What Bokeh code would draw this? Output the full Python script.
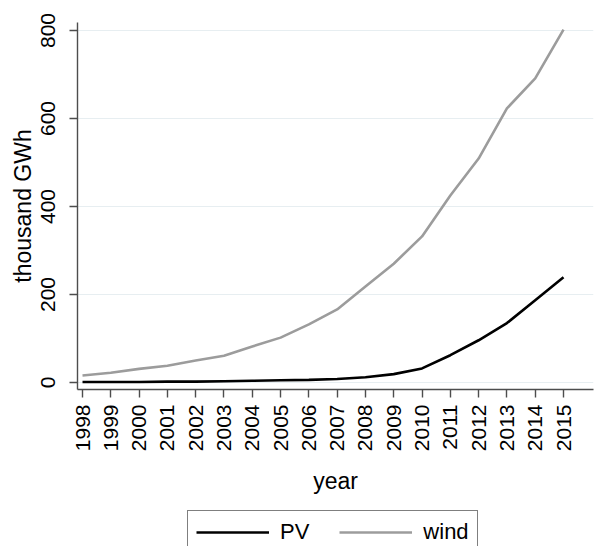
import math
from bokeh.plotting import figure
from bokeh.layouts import column
from bokeh.models import Range1d, FixedTicker, Legend, LegendItem
from bokeh.embed import file_html
from bokeh.resources import INLINE

years = list(range(1998, 2016))
pv = [1, 1, 1, 2, 2, 3, 4, 5, 6, 8, 12, 19, 32, 62, 96, 135, 187, 239]
wind = [16, 22, 31, 38, 50, 61, 82, 102, 132, 166, 218, 270, 332, 425, 509, 623, 691, 802]
y_ticks = [0, 200, 400, 600, 800]
series_names = ["PV", "wind"]
series_colors = ["black", "#9c9c9c"]

FONT = "Liberation Sans"

p = figure(width=595, height=509, output_backend="svg", toolbar_location=None,
           x_range=Range1d(1997.823, 2016.06), y_range=Range1d(-15.9, 818.2),
           min_border_left=77, min_border_right=2, min_border_top=22,
           min_border_bottom=120)
p.outline_line_color = None
p.background_fill_color = "white"
p.border_fill_color = "white"

p.line(years, pv, line_color=series_colors[0], line_width=2.6)
p.line(years, wind, line_color=series_colors[1], line_width=2.6)

p.xgrid.visible = False
p.ygrid.grid_line_color = "#e7eef1"
p.ygrid.grid_line_width = 1.2

for ax in (p.xaxis[0], p.yaxis[0]):
    ax.axis_line_color = "#4d4d4d"
    ax.axis_line_width = 1.4
    ax.major_tick_line_color = "#4d4d4d"
    ax.major_tick_line_width = 1.4
    ax.major_tick_out = 8
    ax.major_tick_in = 0
    ax.minor_tick_line_color = None
    ax.major_label_text_font = FONT
    ax.major_label_text_font_size = "21px"
    ax.major_label_text_color = "black"
    ax.axis_label_text_font = FONT
    ax.axis_label_text_font_size = "23px"
    ax.axis_label_text_font_style = "normal"
    ax.axis_label_text_color = "black"

p.xaxis.major_label_orientation = math.pi / 2
p.yaxis.major_label_orientation = "vertical"
p.xaxis.ticker = FixedTicker(ticks=years)
p.yaxis.ticker = FixedTicker(ticks=y_ticks)
p.xaxis.axis_label = "year"
p.yaxis.axis_label = "thousand GWh"
p.xaxis.major_label_standoff = 7
p.yaxis.major_label_standoff = 14
p.xaxis.axis_label_standoff = 14
p.yaxis.axis_label_standoff = 3

# legend strip (separate figure so the box can be cut at the bottom edge);
# its renderers use the same series but fall outside this strip's ranges
lf = figure(width=595, height=37, output_backend="svg", toolbar_location=None,
            x_range=Range1d(0, 1), y_range=Range1d(0, 1),
            x_axis_type=None, y_axis_type=None,
            min_border_left=0, min_border_right=0, min_border_top=0,
            min_border_bottom=0)
lf.outline_line_color = None
lf.xgrid.visible = False
lf.ygrid.visible = False
items = []
for name, col, vals in zip(series_names, series_colors, [pv, wind]):
    r = lf.line(years, vals, line_color=col, line_width=2.6)
    items.append(LegendItem(label=name, renderers=[r]))

legend = Legend(items=items, orientation="horizontal", location=(110, -7.5))
legend.label_text_font = FONT
legend.label_text_font_size = "22px"
legend.label_text_color = "black"
legend.glyph_width = 73
legend.glyph_height = 20
legend.label_standoff = 11
legend.spacing = 30
legend.padding = 8
legend.margin = 0
legend.border_line_color = "black"
legend.border_line_width = 1
legend.background_fill_color = "white"
legend.background_fill_alpha = 1
lf.add_layout(legend, "center")

layout = column(p, lf, spacing=0)
open("out.html", "w").write(file_html(layout, INLINE))
